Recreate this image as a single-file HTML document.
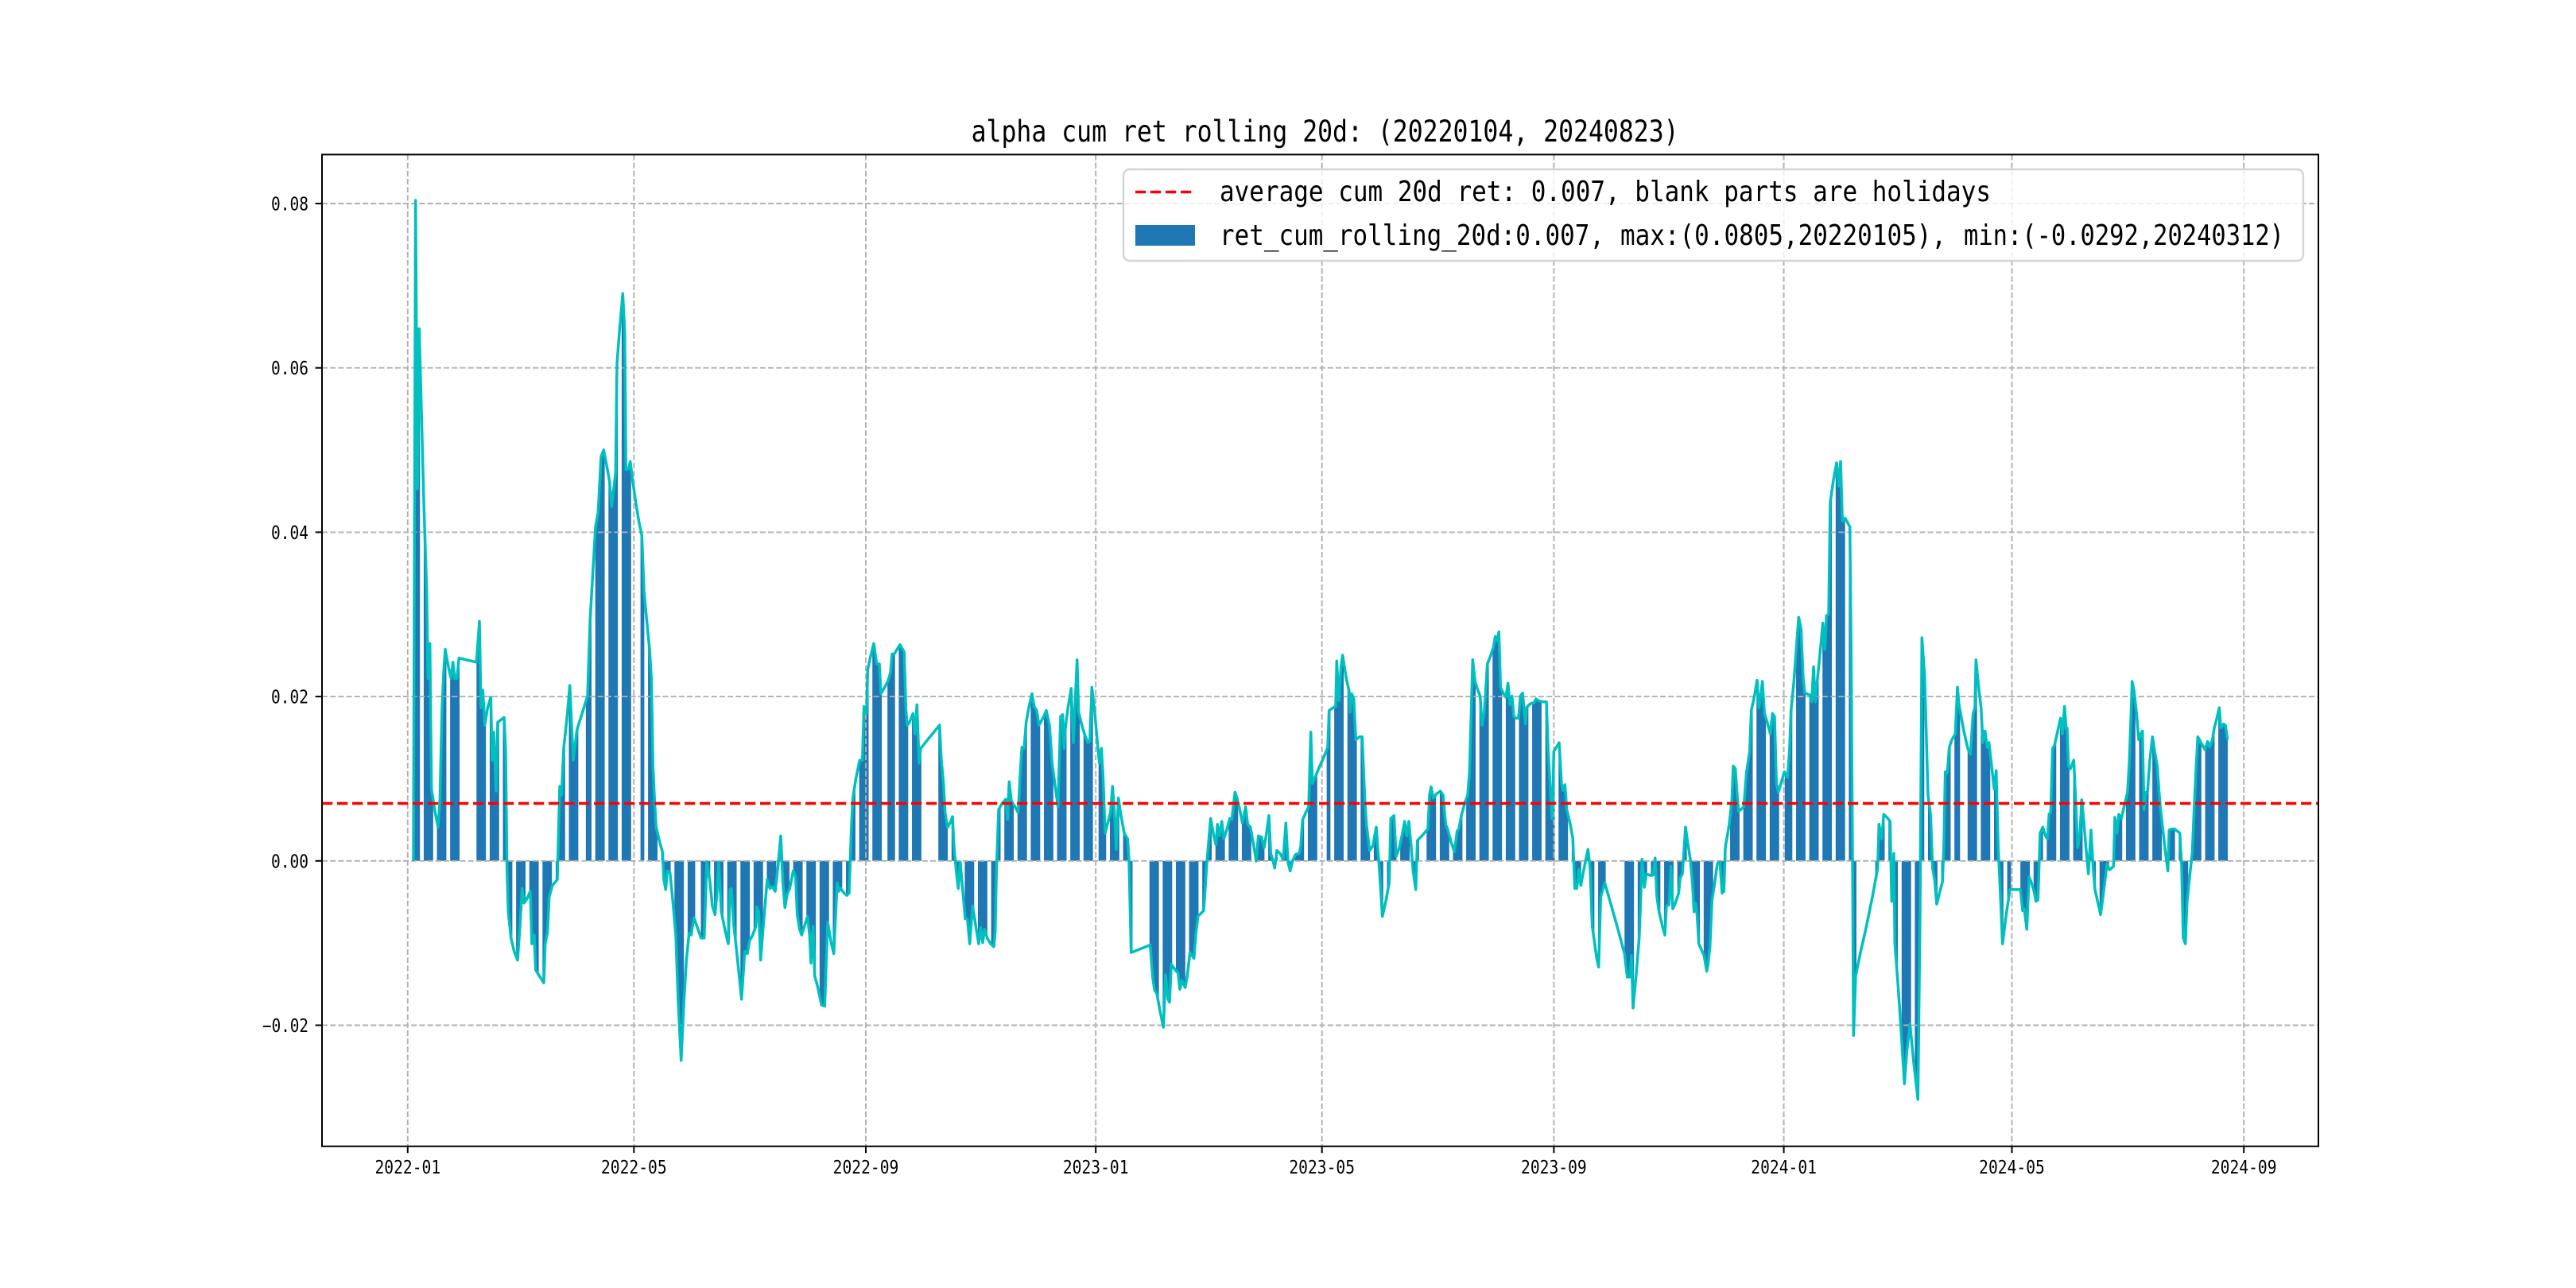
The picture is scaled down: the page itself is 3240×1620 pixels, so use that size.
<!DOCTYPE html>
<html><head><meta charset="utf-8"><style>
html,body{margin:0;padding:0;background:#fff;}
svg{display:block;}
text{font-family:"DejaVu Sans Mono","Liberation Mono",monospace;fill:#000;}
</style></head><body>
<svg id="chart" xmlns="http://www.w3.org/2000/svg" width="3240" height="1620" viewBox="0 0 3240 1620">
<rect x="0" y="0" width="3240" height="1620" fill="#fff"/>
<path id="bars" fill="#1f77b4" d=""/>
<g id="grid" stroke="#b0b0b0" stroke-width="1.9" stroke-dasharray="7.1 3.1" fill="none">
<line x1="405" y1="256.0" x2="2916" y2="256.0"/>
<line x1="405" y1="462.7" x2="2916" y2="462.7"/>
<line x1="405" y1="669.4" x2="2916" y2="669.4"/>
<line x1="405" y1="876.1" x2="2916" y2="876.1"/>
<line x1="405" y1="1082.8" x2="2916" y2="1082.8"/>
<line x1="405" y1="1289.5" x2="2916" y2="1289.5"/>
<line x1="512.8" y1="194.4" x2="512.8" y2="1441.8"/>
<line x1="797.3" y1="194.4" x2="797.3" y2="1441.8"/>
<line x1="1089.0" y1="194.4" x2="1089.0" y2="1441.8"/>
<line x1="1378.2" y1="194.4" x2="1378.2" y2="1441.8"/>
<line x1="1662.7" y1="194.4" x2="1662.7" y2="1441.8"/>
<line x1="1954.4" y1="194.4" x2="1954.4" y2="1441.8"/>
<line x1="2243.6" y1="194.4" x2="2243.6" y2="1441.8"/>
<line x1="2530.5" y1="194.4" x2="2530.5" y2="1441.8"/>
<line x1="2822.2" y1="194.4" x2="2822.2" y2="1441.8"/>
</g>
<polyline id="cline" fill="none" stroke="#00bfbf" stroke-width="3.5" stroke-linejoin="round" points=""/>
<line x1="405" y1="1010.5" x2="2916" y2="1010.5" stroke="#ff0000" stroke-width="3.6" stroke-dasharray="13.3 5.7"/>
<g stroke="#000" stroke-width="2" fill="none">
<rect x="405" y="194.4" width="2511" height="1247.4"/>
<line x1="396.6" y1="256.0" x2="405" y2="256.0"/>
<line x1="396.6" y1="462.7" x2="405" y2="462.7"/>
<line x1="396.6" y1="669.4" x2="405" y2="669.4"/>
<line x1="396.6" y1="876.1" x2="405" y2="876.1"/>
<line x1="396.6" y1="1082.8" x2="405" y2="1082.8"/>
<line x1="396.6" y1="1289.5" x2="405" y2="1289.5"/>
<line x1="512.8" y1="1441.8" x2="512.8" y2="1450.2"/>
<line x1="797.3" y1="1441.8" x2="797.3" y2="1450.2"/>
<line x1="1089.0" y1="1441.8" x2="1089.0" y2="1450.2"/>
<line x1="1378.2" y1="1441.8" x2="1378.2" y2="1450.2"/>
<line x1="1662.7" y1="1441.8" x2="1662.7" y2="1450.2"/>
<line x1="1954.4" y1="1441.8" x2="1954.4" y2="1450.2"/>
<line x1="2243.6" y1="1441.8" x2="2243.6" y2="1450.2"/>
<line x1="2530.5" y1="1441.8" x2="2530.5" y2="1450.2"/>
<line x1="2822.2" y1="1441.8" x2="2822.2" y2="1450.2"/>
</g>
<g font-size="23" text-anchor="end">
<text x="388" y="264.5" textLength="47" lengthAdjust="spacingAndGlyphs">0.08</text>
<text x="388" y="471.2" textLength="47" lengthAdjust="spacingAndGlyphs">0.06</text>
<text x="388" y="677.9" textLength="47" lengthAdjust="spacingAndGlyphs">0.04</text>
<text x="388" y="884.6" textLength="47" lengthAdjust="spacingAndGlyphs">0.02</text>
<text x="388" y="1091.3" textLength="47" lengthAdjust="spacingAndGlyphs">0.00</text>
<text x="388" y="1298.0" textLength="58" lengthAdjust="spacingAndGlyphs">−0.02</text>
</g>
<g font-size="23" text-anchor="middle">
<text x="512.8" y="1476" textLength="82.7" lengthAdjust="spacingAndGlyphs">2022-01</text>
<text x="797.3" y="1476" textLength="82.7" lengthAdjust="spacingAndGlyphs">2022-05</text>
<text x="1089.0" y="1476" textLength="82.7" lengthAdjust="spacingAndGlyphs">2022-09</text>
<text x="1378.2" y="1476" textLength="82.7" lengthAdjust="spacingAndGlyphs">2023-01</text>
<text x="1662.7" y="1476" textLength="82.7" lengthAdjust="spacingAndGlyphs">2023-05</text>
<text x="1954.4" y="1476" textLength="82.7" lengthAdjust="spacingAndGlyphs">2023-09</text>
<text x="2243.6" y="1476" textLength="82.7" lengthAdjust="spacingAndGlyphs">2024-01</text>
<text x="2530.5" y="1476" textLength="82.7" lengthAdjust="spacingAndGlyphs">2024-05</text>
<text x="2822.2" y="1476" textLength="82.7" lengthAdjust="spacingAndGlyphs">2024-09</text>
</g>
<text x="1221.6" y="178" font-size="37" textLength="890" lengthAdjust="spacingAndGlyphs">alpha cum ret rolling 20d: (20220104, 20240823)</text>
<rect x="1413" y="213" width="1484" height="115" rx="8" ry="8" fill="#fff" fill-opacity="0.8" stroke="#d4d4d4" stroke-width="2.4"/>
<line x1="1428" y1="241.5" x2="1503" y2="241.5" stroke="#ff0000" stroke-width="3.6" stroke-dasharray="13.3 5.7"/>
<rect x="1428" y="283" width="75" height="26" fill="#1f77b4"/>
<text x="1534" y="253" font-size="36" textLength="970" lengthAdjust="spacingAndGlyphs">average cum 20d ret: 0.007, blank parts are holidays</text>
<text x="1534" y="308" font-size="36" textLength="484" lengthAdjust="spacingAndGlyphs">ret_cum_rolling_20d:0.007,</text>
<text x="2038" y="308" font-size="36" textLength="410" lengthAdjust="spacingAndGlyphs">max:(0.0805,20220105),</text>
<text x="2470" y="308" font-size="36" textLength="403" lengthAdjust="spacingAndGlyphs">min:(-0.0292,20240312)</text>
</svg>
<script>
(function(){
var segs=[
[500,[60,1163,68,30,75,525,82,250,90,390,100,560,110,700,115,850,122,790,128,1040,140,1075,153,1105,160,1060,168,900,174,840,180,800,192,830,202,850,209,822,216,850,224,850,232,815,298,822,309,752,315,900,322,870,329,930,340,900,352,882,357,990,363,942,372,1043,378,925,402,917,408,975,413,1180,418,1250,428,1295,440,1318,453,1333,462,1275,470,1210,477,1235,488,1228,501,1215,507,1305,516,1290,521,1350,538,1362,552,1372,557,1305,566,1285,572,1225,584,1205,603,1195,612,1035,619,1050,627,970,640,915,650,862,663,990,677,938,700,905,717,880,727,748,738,660,747,590,757,565,768,470,778,458,790,487,800,512,808,555,823,497,828,310,838,252,850,190,857,255,862,492,872,490,878,478,887,510,898,545,911,582,922,605,930,700,940,748,951,800,958,850,964,1000,970,1060,976,1105,988,1128,1000,1148,1005,1195,1012,1212,1018,1180,1028,1183,1038,1228,1050,1290,1058,1395,1070,1505,1080,1410,1090,1333,1100,1287,1108,1290,1118,1260,1130,1275,1145,1295,1157,1295,1167,1165,1178,1195,1188,1240,1198,1255,1205,1220,1212,1165,1222,1250,1235,1280,1248,1305,1255,1212]],
[920,[0,1210,8,1270,20,1320,38,1400,50,1318,60,1322,68,1300,80,1290,92,1275,96,1242,103,1250,110,1333,120,1275,135,1195,145,1210,155,1207,165,1215,176,1170,186,1120,194,1200,202,1243,210,1220,220,1210,233,1180,242,1190,248,1255,257,1280,265,1290,275,1275,287,1258,295,1290,300,1338,308,1275,314,1360,325,1378,340,1410,352,1412,363,1268,375,1300,386,1322,399,1200,405,1215,412,1210,425,1218,435,1222,444,1218,452,1110,458,1055,470,1020,484,990,494,990,500,898,510,910,514,835,526,810,537,790,548,825,558,825,564,876,578,865,590,855,600,840,606,808,614,808,625,800,636,792,652,805,658,900,663,930,672,925,685,910,692,945,700,895,708,995,714,970,740,955,785,930,792,990,800,1030,806,1080,815,1105,826,1097,834,1087,840,1140,848,1180,856,1210,863,1165,872,1210,882,1262,890,1262,899,1305,910,1240,920,1270,933,1305,940,1277,948,1303,955,1280,965,1295,978,1305,990,1310,995,1285,1000,1180,1008,1075,1020,1065,1035,1057,1042,1092,1048,1027,1056,1060,1070,1070,1082,1080,1090,1010,1096,968,1104,970,1112,925,1122,900,1134,876,1142,898,1152,905,1160,930,1175,918,1188,905,1200,930,1210,995,1220,1030,1232,1070,1242,915,1250,912,1255,970]],
[1340,[0,935,10,900,22,867,30,960,44,818,50,908,62,930,72,945,85,960,92,958,100,865,110,905,120,955,128,995,136,970,142,1015,150,1115,160,1098,170,1080,178,1035,185,1080,192,1143,200,1055,208,1080,222,1115,235,1125,240,1160,248,1320,320,1307,330,1365,337,1385,345,1390,357,1420,370,1448,378,1358,387,1400,393,1405,400,1340,415,1350,425,1355,432,1383,440,1368,452,1380,460,1360,470,1320,485,1330,492,1290,500,1258,522,1248,535,1160,548,1090,560,1120,568,1135,574,1100,582,1120,590,1095,598,1125,610,1108,620,1090,628,1092,640,1045,648,1055,658,1075,668,1098,680,1070,688,1100,698,1105,712,1140,720,1163,728,1120,740,1122,750,1140,758,1118,768,1085,775,1150,782,1160,790,1175,798,1145,810,1150,822,1160,832,1098,840,1165,848,1180,858,1162,868,1152,882,1150,888,1138,895,1093,907,1080,918,1070,926,942,932,1030,940,1022,958,1002,975,985,990,968,995,905,1010,900,1020,898,1024,820,1032,888,1040,830,1046,810,1060,850,1070,870,1074,908,1080,876,1088,885,1096,955,1110,950,1120,950,1130,1060,1136,1100,1148,1145,1160,1137,1173,1105,1185,1178,1196,1258,1210,1230,1222,1200,1228,1090,1240,1085,1248,1155]],
[1760,[0,1140,10,1120,20,1095,28,1120,36,1095,45,1140,52,1180,62,1212,68,1128,85,1120,108,1108,114,1050,120,1036,128,1055,140,1048,155,1043,165,1050,175,1100,182,1108,195,1130,208,1147,218,1112,225,1108,234,1085,248,1062,258,1050,265,1010,270,930,277,818,286,855,296,870,305,880,312,930,320,910,325,880,332,825,345,810,355,797,362,778,368,785,376,770,382,865,392,875,402,882,410,858,417,895,425,880,432,915,440,918,450,918,457,880,465,875,476,928,480,900,490,895,500,892,508,892,516,885,525,888,540,890,555,890,562,975,570,1040,576,1090,580,1045,583,975,603,960,612,1030,618,1042,625,1032,632,1075,645,1100,655,1125,662,1210,670,1210,678,1177,685,1205,695,1180,712,1143,720,1175,728,1275,745,1330,752,1345,760,1225,775,1200,800,1240,825,1280,850,1322,860,1362,870,1362,876,1325,882,1415,895,1352,905,1295,910,1240,916,1160,925,1208,932,1185,950,1188,958,1187,965,1158,972,1225,980,1250,993,1275,1002,1290,1008,1240,1018,1238,1025,1172,1032,1245,1042,1235,1054,1218,1060,1192,1068,1185,1080,1105,1086,1125,1098,1160,1106,1200,1112,1250,1118,1235,1124,1258,1130,1305,1150,1325,1160,1352,1165,1340,1172,1310,1180,1230,1190,1200,1200,1168,1210,1165,1218,1218,1225,1215,1230,1140,1245,1100,1255,1058]],
[2180,[0,1000,8,1005,14,1045,20,1078,40,1070,50,1010,62,975,68,905,80,880,90,853,97,900,104,878,110,855,118,910,128,925,140,945,148,910,156,915,163,1030,170,1045,180,1030,193,1010,205,1020,212,975,218,905,228,860,238,800,247,745,256,765,264,850,270,875,288,878,296,890,303,830,310,890,318,850,330,795,338,755,346,800,352,742,360,740,366,548,378,510,390,480,398,520,405,478,412,580,422,575,440,590,445,800,450,1150,454,1462,462,1360,480,1320,500,1280,525,1225,545,1175,550,1100,560,1125,568,1083,580,1088,592,1095,598,1232,606,1150,610,1305,620,1365,630,1430,646,1545,655,1490,667,1442,680,1505,697,1572,705,1250,712,780,722,845,735,1050,745,1085,752,1175,760,1195,768,1237,780,1215,790,1198,795,1130,800,1010,808,1012,815,968,825,955,838,945,846,865,852,895,870,940,885,970,895,980,905,910,912,900,916,818,925,860,935,900,942,960,950,940,958,968,965,960,975,1000,985,1040,992,1008,1000,1140,1008,1220,1016,1305,1030,1255,1044,1212,1084,1212,1092,1248,1098,1245,1108,1280,1116,1190,1125,1200,1135,1215,1142,1232,1150,1230,1158,1115,1168,1105,1178,1120,1186,1125,1192,1082,1198,1080,1205,970,1212,965,1222,945,1235,918,1242,945,1250,898,1256,935]],
[2600,[0,935,5,1000,12,1005,25,990,32,1060,40,1140,48,1118,55,1058,62,1090,70,1135,80,1185,90,1110,98,1175,105,1212,115,1232,126,1255,135,1225,142,1200,150,1168,160,1178,175,1172,180,1088,188,1115,195,1083,205,1090,212,1075,220,1060,228,1045,235,990,240,925,245,855,252,870,262,910,270,955,278,945,284,940,290,1075,297,1045,303,1045,312,990,322,950,332,980,340,1000,350,1065,360,1105,370,1145,380,1180,385,1110,395,1108,405,1108,425,1115,432,1170,438,1295,446,1305,452,1235,462,1190,472,1150,480,1065,487,1000,493,950,505,960,520,972,530,958,538,968,548,955,555,935,565,918,574,900,580,935,590,928,597,930,605,955]]
];
var pts=[];
for(var s=0;s<segs.length;s++){var x0=segs[s][0],a=segs[s][1];
 for(var i=0;i<a.length;i+=2){pts.push([x0+a[i]/3,230+a[i+1]/1.36348]);}}
pts.sort(function(p,q){return p[0]-q[0];});
var ps=[];for(var k=0;k<pts.length;k++){ps.push(pts[k][0].toFixed(1)+','+pts[k][1].toFixed(1));}
document.getElementById('cline').setAttribute('points',ps.join(' '));
function interp(x){
 if(x<=pts[0][0])return pts[0][1];
 var n=pts.length;if(x>=pts[n-1][0])return pts[n-1][1];
 for(var j=1;j<n;j++){if(pts[j][0]>=x){var a=pts[j-1],b=pts[j];var t=(b[0]-a[0])>0?(x-a[0])/(b[0]-a[0]):0;return a[1]+t*(b[1]-a[1]);}}
 return pts[n-1][1];
}
var hol={};
['2022-01-03','2022-01-31','2022-02-01','2022-02-02','2022-02-03','2022-02-04','2022-04-04','2022-04-05','2022-05-02','2022-05-03','2022-05-04','2022-06-03','2022-09-12','2022-10-03','2022-10-04','2022-10-05','2022-10-06','2022-10-07',
'2023-01-02','2023-01-23','2023-01-24','2023-01-25','2023-01-26','2023-01-27','2023-04-05','2023-05-01','2023-05-02','2023-05-03','2023-06-22','2023-06-23','2023-09-29','2023-10-02','2023-10-03','2023-10-04','2023-10-05','2023-10-06',
'2024-01-01','2024-02-09','2024-02-12','2024-02-13','2024-02-14','2024-02-15','2024-02-16','2024-04-04','2024-04-05','2024-05-01','2024-05-02','2024-05-03','2024-06-10'].forEach(function(s){hol[s]=1;});
function pad(n){return n<10?'0'+n:''+n;}
var d0=1082.8,w=1.2,path='';
for(var d=3;d<=965;d++){
 var dt=new Date(Date.UTC(2022,0,1+d));var wd=dt.getUTCDay();
 if(wd===0||wd===6)continue;
 var key=dt.getUTCFullYear()+'-'+pad(dt.getUTCMonth()+1)+'-'+pad(dt.getUTCDate());
 if(hol[key])continue;
 var X=512.8+2.371*d;var Y=interp(X);
 path+='M'+(X-w).toFixed(2)+' '+d0+'H'+(X+w).toFixed(2)+'V'+Y.toFixed(1)+'H'+(X-w).toFixed(2)+'Z';
}
document.getElementById('bars').setAttribute('d',path);
})();
</script>
</body></html>
